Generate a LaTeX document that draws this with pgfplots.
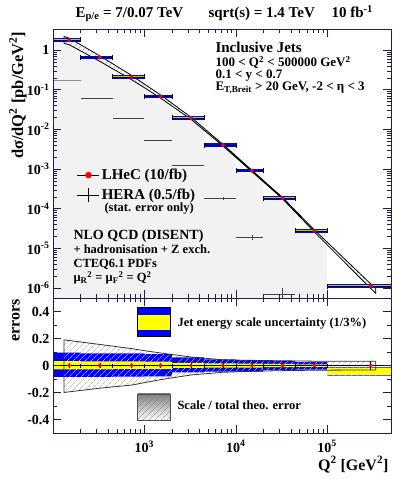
\documentclass[border=0pt]{standalone}
\usepackage{fontspec}
\setmainfont{Liberation Serif}
\usepackage{pgfplots}
\usepackage{pgfplotstable}
\pgfplotsset{compat=1.18}
\usetikzlibrary{patterns,patterns.meta}

\definecolor{framecol}{RGB}{30,30,85}
\definecolor{jesblue}{RGB}{0,0,255}
\definecolor{jesyellow}{RGB}{255,255,0}
\definecolor{shade}{RGB}{242,242,242}

\newcommand{\fs}[1]{\fontsize{#1}{#1}\selectfont\bfseries}
\tikzset{hatch/.style={pattern={Lines[angle=45,distance=4pt,line width=0.45pt]}, pattern color=#1}}

% LHeC bins: edges, centre, dsigma/dQ2, stat. error (relative)
\pgfplotstableread{
xlo xhi xc y se
100 200 150 1.8 0.02
200 450 325 0.65 0.02
450 1000 725 0.21 0.02
1000 2000 1500 0.068 0.02
2000 4500 3250 0.0194 0.02
4500 10000 7250 0.0040 0.02
10000 20000 15000 9.1e-4 0.02
20000 45000 32500 1.86e-4 0.02
45000 100000 72500 2.75e-5 0.025
100000 500000 300000 1.12e-6 0.035
}\lhec

% HERA 0.5/fb
\pgfplotstableread{
xlo xhi xc y e
200 450 325 0.0605 0.0006
450 1000 725 0.019 0.0003
1000 2000 1500 0.00538 0.0001
2000 4500 3250 0.00126 4e-5
4500 10000 7250 1.83e-4 1.8e-5
10000 20000 15000 1.9e-5 2.9e-6
20000 45000 32500 7.1e-7 3.2e-7
}\hera
\pgfplotstableread{
xlo xhi xc y e
100 200 150 0.168 0.001
}\herafirst

% NLO band, upper edge then lower edge backwards
\pgfplotstableread{
x y
132 2.20
150 2.01
325 0.715
725 0.2296
1000 0.1386
1500 0.0741
3250 0.02014
7250 0.004184
15000 9.36e-4
32500 1.92e-4
72500 2.915e-5
300000 1.266e-6
340000 9.80e-7
340000 7.40e-7
300000 9.74e-7
72500 2.585e-5
32500 1.78e-4
15000 8.62e-4
7250 3.808e-3
3250 0.0178
1500 0.0617
1000 0.1128
725 0.179
325 0.521
150 1.37
132 1.48
}\thtop

% relative scale error of the NLO prediction
\pgfplotstableread{
x y
132 0.19
150 0.185
325 0.156
725 0.125
1000 0.11
1500 0.093
3250 0.063
7250 0.042
15000 0.038
32500 0.035
72500 0.032
300000 0.031
340000 0.031
340000 -0.033
300000 -0.033
72500 -0.035
32500 -0.038
15000 -0.043
7250 -0.05
3250 -0.07
1500 -0.105
1000 -0.127
725 -0.145
325 -0.168
150 -0.195
132 -0.2
}\thbot

% jet energy scale 3% (blue) per bin, outline of the steps
\pgfplotstableread{
x y
100 0.095
200 0.095
200 0.09
1000 0.09
1000 0.085
2000 0.085
2000 0.06
4500 0.06
4500 0.045
10000 0.045
10000 0.04
20000 0.04
20000 0.035
45000 0.035
45000 0.025
100000 0.025
100000 -0.012
500000 -0.012
500000 -0.075
100000 -0.075
100000 -0.03
45000 -0.03
45000 -0.035
20000 -0.035
20000 -0.045
4500 -0.045
4500 -0.05
2000 -0.05
2000 -0.08
1000 -0.08
1000 -0.083
450 -0.083
450 -0.085
100 -0.085
}\jesthree

% same, inside the range of the NLO band
\pgfplotstableread{
x y
132 0.095
200 0.095
200 0.09
1000 0.09
1000 0.085
2000 0.085
2000 0.06
4500 0.06
4500 0.045
10000 0.045
10000 0.04
20000 0.04
20000 0.035
45000 0.035
45000 0.025
100000 0.025
100000 -0.012
340000 -0.012
340000 -0.075
100000 -0.075
100000 -0.03
45000 -0.03
45000 -0.035
20000 -0.035
20000 -0.045
4500 -0.045
4500 -0.05
2000 -0.05
2000 -0.08
1000 -0.08
1000 -0.083
450 -0.083
450 -0.085
132 -0.085
}\jesthreein

% jet energy scale 1% (yellow) per bin
\pgfplotstableread{
x y
100 0.033
200 0.033
200 0.03
1000 0.03
1000 0.028
2000 0.028
2000 0.02
4500 0.02
4500 0.016
10000 0.016
10000 0.014
20000 0.014
20000 0.012
45000 0.012
45000 0.009
100000 0.009
100000 -0.015
500000 -0.015
500000 -0.07
100000 -0.07
100000 -0.01
45000 -0.01
45000 -0.012
20000 -0.012
20000 -0.015
10000 -0.015
10000 -0.016
4500 -0.016
4500 -0.018
2000 -0.018
2000 -0.026
1000 -0.026
1000 -0.027
450 -0.027
450 -0.028
100 -0.028
}\jesone

\begin{document}
\begin{tikzpicture}[x=1pt,y=1pt]
\useasboundingbox (0,0) rectangle (399,479);

\begin{axis}[at={(53pt,181pt)}, anchor=south west, scale only axis,
  width=338pt, height=269pt,
  xmode=log, ymode=log, xmin=100, xmax=500000, ymin=5.6e-7, ymax=3.4,
  axis on top,
  axis line style={framecol, line width=0.9pt},
  every tick/.style={framecol, line width=0.5pt},
  major tick length=8pt, minor tick length=4pt,
  tick label style={font=\fs{14}},
  xtick={100,1000,10000,100000}, xticklabels={},
  ytick={1e-6,1e-5,1e-4,1e-3,1e-2,1e-1,1},
  yticklabels={10\textsuperscript{-6},10\textsuperscript{-5},10\textsuperscript{-4},10\textsuperscript{-3},10\textsuperscript{-2},10\textsuperscript{-1},1},
  legend style={draw=none, fill=none, at={(0.062,0.495)}, anchor=north west,
    font=\fs{15}, row sep=4pt, cells={anchor=west}},
  legend cell align=left,
]
\addplot[const plot, fill=shade, draw=none, forget plot] coordinates {
  (100,1e-7) (100,1.8) (200,0.65) (450,0.21) (1000,0.068) (2000,0.0194)
  (4500,0.0040) (10000,9.1e-4) (20000,1.86e-4) (45000,2.75e-5) (100000,1e-7)};

\addplot[forget plot, draw=none, mark=none, error bars/.cd, x dir=both, x explicit,
  y dir=both, y explicit, error mark=none, error bar style={draw=black!75, line width=0.6pt}]
  table[x=xc, y=y, x error plus expr=\thisrow{xhi}-\thisrow{xc},
    x error minus expr=\thisrow{xc}-\thisrow{xlo}, y error=e] {\hera};
\addplot[forget plot, draw=none, mark=none, error bars/.cd, x dir=both, x explicit,
  error mark=none, error bar style={draw=black!45, line width=0.6pt}]
  table[x=xc, y=y, x error plus expr=\thisrow{xhi}-\thisrow{xc},
    x error minus expr=\thisrow{xc}-\thisrow{xlo}] {\herafirst};

\addplot[forget plot, draw=black, line width=0.8pt, hatch=gray!80] table {\thtop} -- cycle;

\addplot[forget plot, draw=none, mark=none, error bars/.cd, x dir=both, x explicit,
  error mark=none, error bar style={draw=jesblue, line width=3.5pt}]
  table[x=xc, y=y, x error plus expr=\thisrow{xhi}-\thisrow{xc},
    x error minus expr=\thisrow{xc}-\thisrow{xlo}] {\lhec};
\addplot[forget plot, draw=none, mark=none, error bars/.cd, x dir=both, x explicit,
  error mark=none, error bar style={draw=jesyellow!80!black, line width=1.2pt}]
  table[x=xc, y=y, x error plus expr=\thisrow{xhi}-\thisrow{xc},
    x error minus expr=\thisrow{xc}-\thisrow{xlo}] {\lhec};
\addplot[forget plot, draw=none, mark=*, mark size=1.8pt,
  mark options={draw=red, fill=red},
  error bars/.cd, x dir=both, x explicit, error bar style={draw=black, line width=0.5pt},
  error mark options={draw=black, rotate=90, mark size=2.5pt}]
  table[x=xc, y=y, x error plus expr=\thisrow{xhi}-\thisrow{xc},
    x error minus expr=\thisrow{xc}-\thisrow{xlo}] {\lhec};

\addlegendimage{legend image code/.code={
  \draw[black, line width=0.6pt] (0pt,0pt) -- (22pt,0pt);
  \fill[red] (11pt,0pt) circle (3pt);}}
\addlegendentry{LHeC (10/fb)}
\addlegendimage{legend image code/.code={
  \draw[black, line width=0.6pt] (0pt,0pt) -- (22pt,0pt);
  \draw[black, line width=0.6pt] (11pt,-7pt) -- (11pt,7pt);}}
\addlegendentry{HERA (0.5/fb)}
\end{axis}

\begin{axis}[at={(53pt,46pt)}, anchor=south west, scale only axis,
  width=338pt, height=135pt,
  xmode=log, xmin=100, xmax=500000, ymin=-0.5, ymax=0.5,
  axis on top,
  axis line style={framecol, line width=0.9pt},
  every tick/.style={framecol, line width=0.5pt},
  major tick length=8pt, minor tick length=4pt,
  tick label style={font=\fs{14}},
  xticklabel style={yshift=-4pt},
  ytick={-0.4,-0.2,0,0.2,0.4},
  yticklabels={-0.4,-0.2,0,0.2,0.4}, minor y tick num=1,
  xtick={100,1000,10000,100000},
  xticklabels={,10\textsuperscript{3},10\textsuperscript{4},10\textsuperscript{5}},
]
\addplot[forget plot, draw=none, hatch=gray!80] table {\thbot} -- cycle;
\addplot[forget plot, draw=none, fill=jesblue] table {\jesthree} -- cycle;
\addplot[forget plot, draw=none, hatch=white] table {\jesthreein} -- cycle;
\addplot[forget plot, draw=none, fill=jesyellow] table {\jesone} -- cycle;
\addplot[forget plot, draw=black!80, fill=none, line width=0.8pt] table {\thbot} -- cycle;

\addplot[forget plot, draw=none, mark=none, error bars/.cd, x dir=both, x explicit,
  error bar style={draw=black, line width=0.5pt},
  error mark options={draw=black, rotate=90, mark size=2pt}]
  table[x=xc, y expr=0, x error plus expr=\thisrow{xhi}-\thisrow{xc},
    x error minus expr=\thisrow{xc}-\thisrow{xlo}] {\lhec};
\addplot[forget plot, draw=none, mark=*, mark size=1.8pt,
  mark options={draw=red, fill=red},
  error bars/.cd, y dir=both, y explicit, error mark=none,
  error bar style={draw=black, line width=0.5pt}]
  table[x=xc, y expr=0, y error=se] {\lhec};
\end{axis}

% titles and labels
\node[anchor=base west, font=\fs{15}] at (72,461.7) {E\textsubscript{p/e} = 7/0.07 TeV};
\node[anchor=base west, font=\fs{15}] at (205,461.7) {sqrt(s) = 1.4 TeV};
\node[anchor=base west, font=\fs{15}] at (328,461.7) {10 fb\textsuperscript{-1}};

\node[rotate=90, anchor=east, font=\fs{16.5}] at (18,451) {dσ/dQ\textsuperscript{2} [pb/GeV\textsuperscript{2}]};
\node[rotate=90, anchor=east, font=\fs{16}] at (16,183) {errors};
\node[anchor=base east, font=\fs{16}] at (392,9) {Q\textsuperscript{2} [GeV\textsuperscript{2}]};

\node[anchor=base west, font=\fs{15}] at (212,426.7) {Inclusive Jets};
\node[anchor=base west, font=\fs{13}] at (212,412.3) {100 < Q\textsuperscript{2} < 500000 GeV\textsuperscript{2}};
\node[anchor=base west, font=\fs{13}] at (212,400.5) {0.1 < y < 0.7};
\node[anchor=base west, font=\fs{13}] at (212,388.3) {E\textsubscript{T,Breit} > 20 GeV, -2 < η < 3};

\node[anchor=base west, font=\fs{12.5}] at (101,267.3) {(stat. error only)};
\node[anchor=base west, font=\fs{14}] at (70,239) {NLO QCD (DISENT)};
\node[anchor=base west, font=\fs{12.5}] at (70,225.7) {+ hadronisation + Z exch.};
\node[anchor=base west, font=\fs{12.5}] at (70,211) {CTEQ6.1 PDFs};
\node[anchor=base west, font=\fs{12.5}] at (70,197.5) {μ\textsubscript{R}\textsuperscript{2} = μ\textsubscript{F}\textsuperscript{2} = Q\textsuperscript{2}};

% legend boxes of the lower panel
\fill[jesblue] (137.5,142.3) rectangle (170,171.7);
\fill[jesyellow] (137.5,149) rectangle (170,164);
\draw[black, line width=0.4pt] (137.5,142.3) rectangle (170,171.7);
\node[anchor=base west, font=\fs{12.5}] at (174,152.3) {Jet energy scale uncertainty (1/3\%)};
\fill[shade] (137.5,59) rectangle (170,85);
\fill[hatch=gray] (137.5,59) rectangle (170,85);
\draw[black!70, line width=0.6pt] (137.5,59) rectangle (170,85);
\node[anchor=base west, font=\fs{12.5}] at (174,69) {Scale / total theo. error};
\end{tikzpicture}
\end{document}
